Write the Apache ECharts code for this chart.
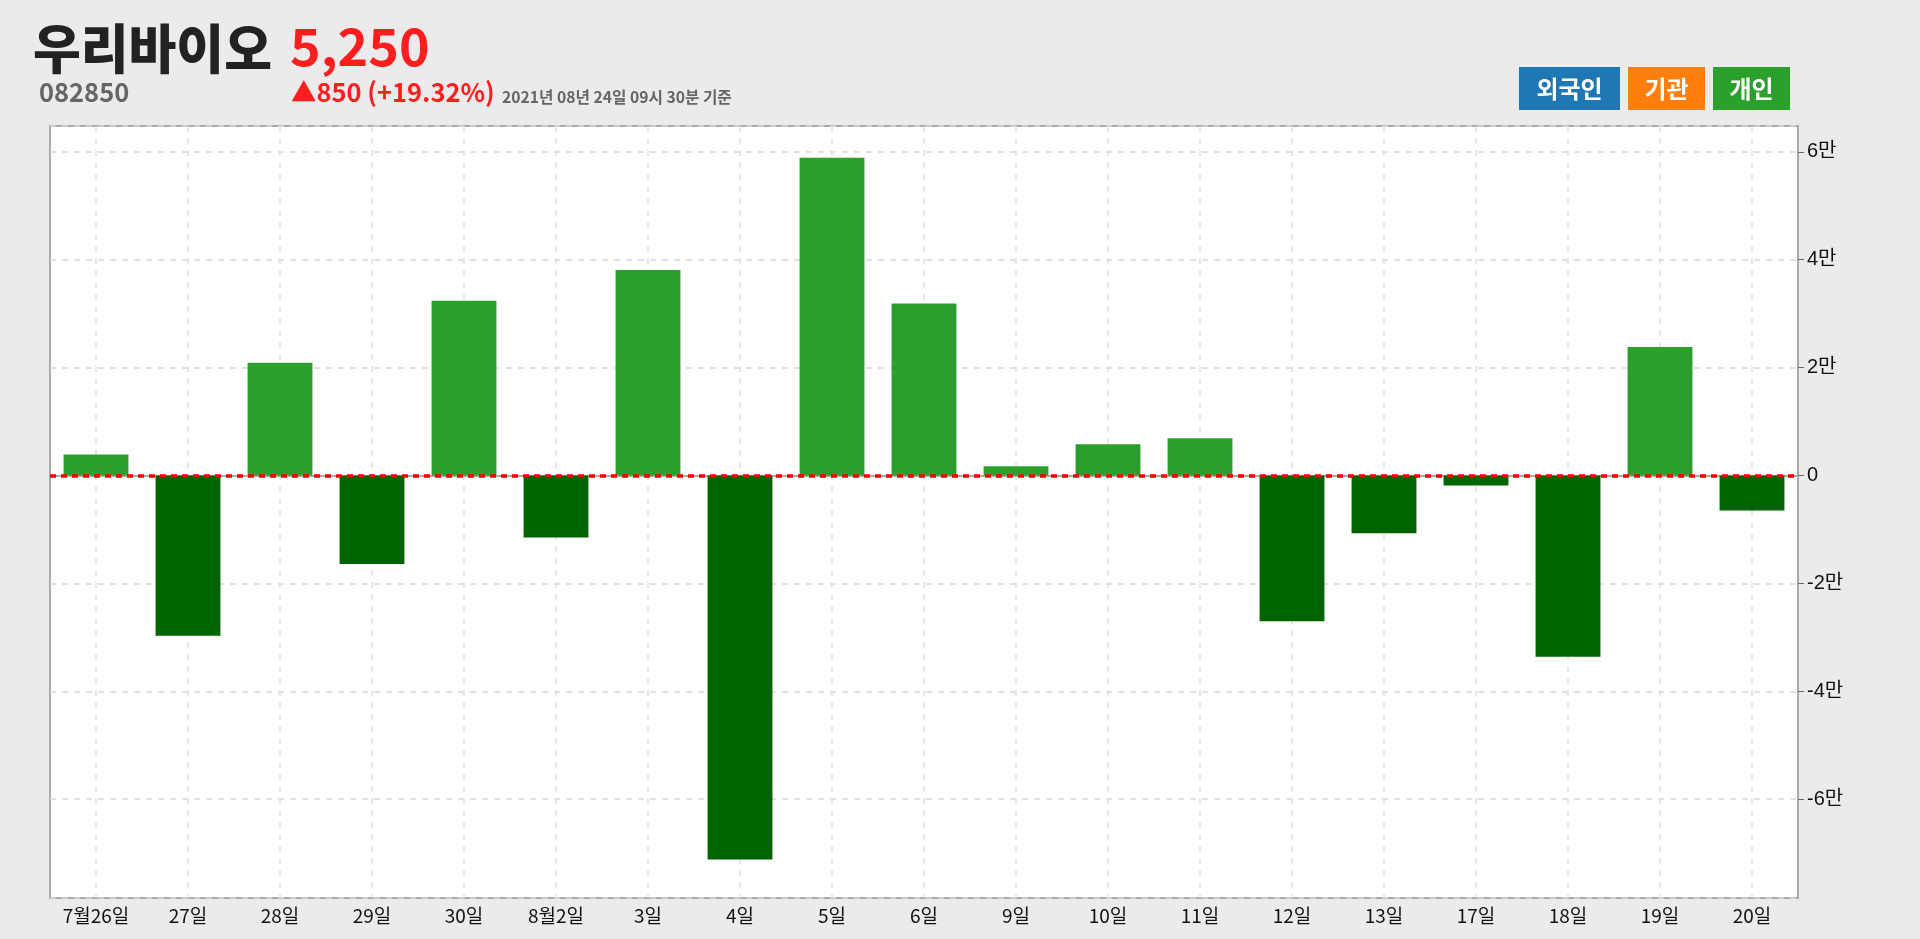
<!DOCTYPE html>
<html>
<head>
<meta charset="utf-8">
<script src="https://cdn.jsdelivr.net/npm/echarts@6/dist/echarts.min.js"></script>
<style>
html,body{margin:0;padding:0;background:#ebebeb;}
#chart{width:1920px;height:939px;}
</style>
</head>
<body>
<div id="chart"></div>
<script>
// ---- data ----
const stockName = '우리바이오';
const stockCode = '082850';
const price = '5,250';
const change = '▲850 (+19.32%)';
const asOf = '2021년 08년 24일 09시 30분 기준';
const legendNames = ['외국인', '기관', '개인'];
const legendColors = ['#1f77b4', '#ff7f0e', '#2ca02c'];
const categories = ['7월26일','27일','28일','29일','30일','8월2일','3일','4일','5일','6일','9일','10일','11일','12일','13일','17일','18일','19일','20일'];
const individual = [3900,-29700,20900,-16400,32400,-11500,38100,-71200,58900,31900,1700,5800,6900,-27000,-10700,-1850,-33600,23800,-6500];

const chart = echarts.init(document.getElementById('chart'));

const legendBoxes = [
  {x:1519, w:101},
  {x:1628, w:77},
  {x:1713, w:77}
];

const graphics = [
  {type:'text', left:33, top:22, scaleX:0.98, style:{text:stockName, font:'900 53px "Noto Sans CJK KR"', fill:'#222'}},
  {type:'text', left:290, top:20, style:{text:price, font:'bold 52px "Noto Sans CJK KR"', fill:'#ff1e1e'}},
  {type:'text', left:39, top:79, scaleX:0.98, style:{text:stockCode, font:'bold 26px "Noto Sans CJK KR"', fill:'#666'}},
  {type:'text', left:291, top:79, scaleX:0.98, style:{text:change, font:'bold 26px "Noto Sans CJK KR"', fill:'#ff1e1e'}},
  {type:'text', left:502, top:89, scaleX:0.98, style:{text:asOf, font:'bold 16px "Noto Sans CJK KR"', fill:'#666'}}
];
legendNames.forEach((n,i)=>{
  const b = legendBoxes[i];
  graphics.push({type:'rect', left:b.x, top:67, shape:{width:b.w, height:43}, style:{fill:legendColors[i]}});
  graphics.push({type:'text', x:b.x + b.w/2, y:88.5, style:{text:n, font:'bold 24px "Noto Sans CJK KR"', fill:'#fff', align:'center', verticalAlign:'middle'}});
});

chart.setOption({
  backgroundColor:'#ebebeb',
  animation:false,
  graphic: graphics,
  grid:{left:50, right:122, top:126, bottom:41, show:true, backgroundColor:'#fff', borderColor:'#aaa', borderWidth:2},
  xAxis:{
    type:'category',
    data:categories,
    axisLine:{lineStyle:{color:'#aaa', width:2}},
    axisTick:{alignWithLabel:true, length:5, lineStyle:{color:'#888'}},
    axisLabel:{color:'#111', fontSize:19, fontFamily:'"Liberation Sans Narrow","Noto Sans CJK KR"', margin:8},
    splitLine:{show:true, alignWithLabel:true, lineStyle:{color:'#e0e0e0', type:[6,6], width:1.5}}
  },
  yAxis:{
    type:'value',
    position:'right',
    min: v => v.min*1.1,
    max: v => v.max*1.1,
    splitNumber:7,
    axisLine:{show:true, lineStyle:{color:'#aaa', width:2}},
    axisTick:{show:true, length:6, lineStyle:{color:'#666'}},
    axisLabel:{color:'#111', fontSize:20, fontFamily:'"Liberation Sans","Noto Sans CJK KR"', margin:9, showMinLabel:false, showMaxLabel:false,
      formatter: v => v === 0 ? '0' : (Math.round(v/1000)/10) + '만'},
    splitLine:{show:true, lineStyle:{color:'#d8d8d8', type:[6,6], width:1.5}}
  },
  series:[{
    name:'개인',
    type:'bar',
    data:individual,
    barWidth:'70.5%',
    itemStyle:{color: p => p.value >= 0 ? '#2ca02c' : '#006400'},
    markLine:{
      silent:true,
      symbol:'none',
      label:{show:false},
      z:10,
      lineStyle:{color:'#ff0000', type:[6,5], width:3.5},
      data:[{yAxis:0}]
    }
  }]
});
</script>
</body>
</html>
